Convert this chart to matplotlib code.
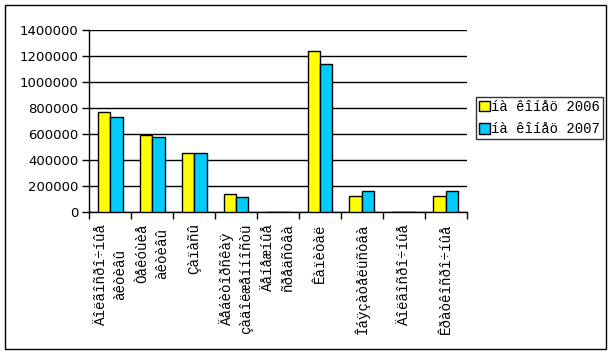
import matplotlib

matplotlib.use("Agg")
import matplotlib.pyplot as plt
from matplotlib.patches import Rectangle
import numpy as np

# labels kept exactly as rendered in the reference (cp1251 text shown as latin-1)
categories = [
    "Äîëãîñðî÷íûå\nàêòèâû",
    "Òåêóùèå\nàêòèâû",
    "Çàïàñû",
    "Äåáèòîðñêàÿ\nçàäîëæåííîñòü",
    "Äåíåæíûå\nñðåäñòâà",
    "Êàïèòàë",
    "Îáÿçàòåëüñòâà",
    "Äîëãîñðî÷íûå",
    "Êðàòêîñðî÷íûå",
]
series_names = ["íà êîíåö 2006", "íà êîíåö 2007"]
values_2006 = [769000, 597000, 454000, 138000, 6000, 1238000, 123000, 0, 123000]
values_2007 = [731000, 577000, 454000, 115000, 6000, 1138000, 162000, 0, 162000]
yticks = [0, 200000, 400000, 600000, 800000, 1000000, 1200000, 1400000]

fig = plt.figure(figsize=(6.11, 3.53), dpi=100)
ax = fig.add_axes([0.1462, 0.3986, 0.6176, 0.5156])

x = np.arange(len(categories))
w = 0.295
ax.bar(x - w / 2, values_2006, w, color="#FFFF00", edgecolor="black",
       linewidth=1.0, label=series_names[0], zorder=3)
ax.bar(x + w / 2, values_2007, w, color="#00CCFF", edgecolor="black",
       linewidth=1.0, label=series_names[1], zorder=3)

ax.set_xlim(-0.5, len(categories) - 0.5)
ax.set_ylim(0, 1400000)
ax.set_yticks(yticks)
ax.set_yticklabels([str(v) for v in yticks], fontsize=9.5, family="DejaVu Sans")
ax.yaxis.grid(True, color="black", linewidth=1.0, zorder=0)
ax.set_axisbelow(True)

# category boundaries get the ticks, labels sit at centers
ax.set_xticks(np.arange(len(categories) + 1) - 0.5)
ax.set_xticklabels([])
ax.set_xticks(x, minor=True)
ax.set_xticklabels(categories, minor=True, rotation=90, fontsize=10.3,
                   family="Liberation Mono", va="top", ha="center",
                   multialignment="center", linespacing=1.5)
ax.tick_params(axis="x", which="minor", length=0, pad=8)
ax.tick_params(axis="x", which="major", direction="out", length=5, width=1, color="black")
ax.tick_params(axis="y", direction="out", length=5, width=1, color="black", pad=3)

for side in ("top", "right"):
    ax.spines[side].set_visible(False)
for side in ("left", "bottom"):
    ax.spines[side].set_linewidth(1.0)

leg = ax.legend(loc="upper left", bbox_to_anchor=(1.025, 0.633),
                prop={"family": "Liberation Mono", "size": 10},
                frameon=True, fancybox=False, edgecolor="black",
                handlelength=0.8, handleheight=0.8, handletextpad=0.1,
                borderpad=0.2, labelspacing=0.6, borderaxespad=0)
leg.get_frame().set_linewidth(1.0)

fig.patches.append(Rectangle((5 / 611, 4 / 353), 601 / 611, 344 / 353,
                             transform=fig.transFigure, fill=False,
                             edgecolor="black", linewidth=1.0))

fig.savefig("out.png", dpi=100)
